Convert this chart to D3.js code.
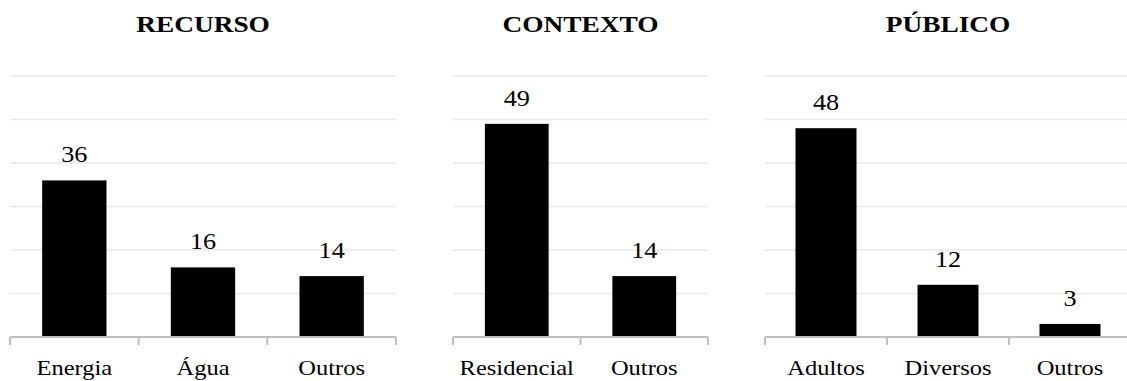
<!DOCTYPE html>
<html>
<head>
<meta charset="utf-8">
<script src="https://cdn.jsdelivr.net/npm/d3@7"></script>
<style>
  html, body { margin: 0; padding: 0; background: #fff; }
  svg { display: block; }
</style>
</head>
<body>
<svg id="chart" width="1127" height="381"></svg>
<script>
// Panel data
const recursoCats = ["Energia", "Água", "Outros"];
const recursoVals = [36, 16, 14];
const contextoCats = ["Residencial", "Outros"];
const contextoVals = [49, 14];
const publicoCats = ["Adultos", "Diversos", "Outros"];
const publicoVals = [48, 12, 3];
const titles = ["RECURSO", "CONTEXTO", "PÚBLICO"];
const gridTicks = [10, 20, 30, 40, 50, 60];

const panels = [
  { title: titles[0], cats: recursoCats, vals: recursoVals, x0: 10, x1: 396 },
  { title: titles[1], cats: contextoCats, vals: contextoVals, x0: 453, x1: 708 },
  { title: titles[2], cats: publicoCats, vals: publicoVals, x0: 765, x1: 1131 }
];

const svg = d3.select("#chart");
const y = d3.scaleLinear().domain([0, 60]).range([337, 76]);
const stretch = 1.14;

// serif text, slightly widened horizontally
function stretchedText(g, x, yPos, str, size, weight) {
  return g.append("text")
    .attr("transform", `translate(${x},${yPos}) scale(${stretch},1)`)
    .attr("text-anchor", "middle")
    .attr("font-family", "Liberation Serif")
    .attr("font-size", size)
    .attr("font-weight", weight || "normal")
    .attr("fill", "#000")
    .text(str);
}

panels.forEach(p => {
  const g = svg.append("g");
  const x = d3.scaleBand().domain(p.cats).range([p.x0, p.x1])
    .paddingInner(0.5).paddingOuter(0.25);

  // horizontal gridlines
  g.selectAll("line.grid").data(gridTicks).join("line")
    .attr("class", "grid")
    .attr("x1", p.x0).attr("x2", p.x1)
    .attr("y1", d => y(d)).attr("y2", d => y(d))
    .attr("stroke", "#e9e9e9").attr("stroke-width", 1.3);

  // bars
  g.selectAll("rect").data(p.cats).join("rect")
    .attr("x", d => x(d))
    .attr("width", x.bandwidth())
    .attr("y", (d, i) => y(p.vals[i]))
    .attr("height", (d, i) => y(0) - y(p.vals[i]))
    .attr("fill", "#000");

  // category axis with ticks at slot boundaries
  const bounds = d3.range(p.cats.length + 1).map(i => p.x0 + i * x.step());
  g.append("line")
    .attr("x1", p.x0).attr("x2", p.x1)
    .attr("y1", y(0)).attr("y2", y(0))
    .attr("stroke", "#bfbfbf").attr("stroke-width", 2);
  g.selectAll("line.tick").data(bounds).join("line")
    .attr("class", "tick")
    .attr("x1", d => d).attr("x2", d => d)
    .attr("y1", y(0)).attr("y2", y(0) + 8)
    .attr("stroke", "#bfbfbf").attr("stroke-width", 2);

  // value labels and category labels
  p.cats.forEach((c, i) => {
    stretchedText(g, x(c) + x.bandwidth() / 2, y(p.vals[i]) - 18, p.vals[i], 23);
    stretchedText(g, x(c) + x.bandwidth() / 2, 375, c, 21.5);
  });

  // panel title
  stretchedText(g, (p.x0 + p.x1) / 2, 32, p.title, 24, "bold");
});
</script>
</body>
</html>
